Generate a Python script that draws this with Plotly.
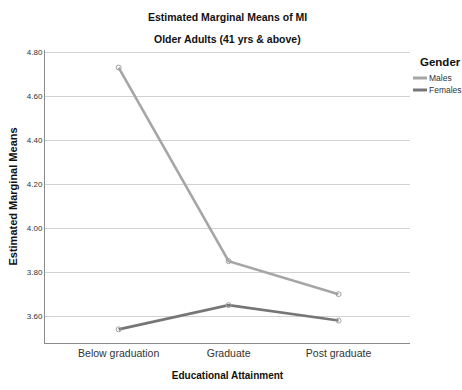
import plotly.graph_objects as go

categories = ["Below graduation", "Graduate", "Post graduate"]
males = [4.73, 3.85, 3.70]
females = [3.54, 3.65, 3.58]
yticks = [3.60, 3.80, 4.00, 4.20, 4.40, 4.60, 4.80]
series_names = ["Males", "Females"]
series_colors = ["#a6a6a6", "#767676"]

W, H = 462, 390
ML, MR, MT, MB = 45, 52, 50, 47
plot_w = W - ML - MR
plot_h = H - MT - MB

def px_x(x):
    return (x - ML) / plot_w

def px_y(y):
    return (H - MB - y) / plot_h

fig = go.Figure()
for name, vals, col in zip(series_names, [males, females], series_colors):
    fig.add_trace(go.Scatter(
        x=categories, y=vals, name=name, mode="lines+markers", showlegend=False,
        line=dict(color=col, width=2.6),
        marker=dict(symbol="circle-open", size=5, color="#a0a0a0", line=dict(width=1)),
    ))

font = "Liberation Sans, Arial, sans-serif"
shapes = []
annotations = [
    dict(text="<b>Estimated Marginal Means of MI</b>", x=0.5, y=px_y(17), xref="paper", yref="paper",
         yanchor="middle", showarrow=False, font=dict(size=10.5, color="#111")),
    dict(text="<b>Older Adults (41 yrs &amp; above)</b>", x=0.5, y=px_y(39), xref="paper", yref="paper",
         yanchor="middle", showarrow=False, font=dict(size=10.5, color="#111")),
    dict(text="<b>Gender</b>", x=px_x(418), y=px_y(62), xref="paper", yref="paper",
         xanchor="left", yanchor="middle", showarrow=False, font=dict(size=11.5, color="#111")),
]
for i, (name, col) in enumerate(zip(series_names, series_colors)):
    ly = 78 + 12 * i
    shapes.append(dict(type="line", xref="paper", yref="paper",
                       x0=px_x(413), x1=px_x(427), y0=px_y(ly), y1=px_y(ly),
                       line=dict(color=col, width=3)))
    annotations.append(dict(text=name, x=px_x(427), y=px_y(ly), xref="paper", yref="paper",
                            xanchor="left", yanchor="middle", showarrow=False,
                            font=dict(size=8.5, color="#333")))

fig.update_layout(
    width=W, height=H,
    margin=dict(l=ML, r=MR, t=MT, b=MB, autoexpand=False),
    plot_bgcolor="white", paper_bgcolor="white",
    font=dict(family=font, color="#222"),
    showlegend=False,
    xaxis=dict(
        type="category", range=[-0.67, 2.65], automargin=False,
        showgrid=False, showline=True, linecolor="#8a8a8a", linewidth=1,
        tickfont=dict(size=10.5, color="#333"), ticks="",
        title=dict(text="<b>Educational Attainment</b>", font=dict(size=10, color="#111"), standoff=14),
    ),
    yaxis=dict(
        range=[3.478, 4.81], tickvals=yticks, tickformat=".2f", automargin=False,
        showgrid=True, gridcolor="#d2d2d2", gridwidth=1,
        showline=True, linecolor="#8a8a8a", linewidth=1,
        tickfont=dict(size=8, color="#333"), ticks="", zeroline=False,
        title=dict(text="<b>Estimated Marginal Means</b>", font=dict(size=11, color="#111"), standoff=6),
    ),
    shapes=shapes,
    annotations=annotations,
)

fig.write_html("out.html", config={"displayModeBar": False},
               post_script="document.body.style.margin='0';document.body.style.overflow='hidden';")
